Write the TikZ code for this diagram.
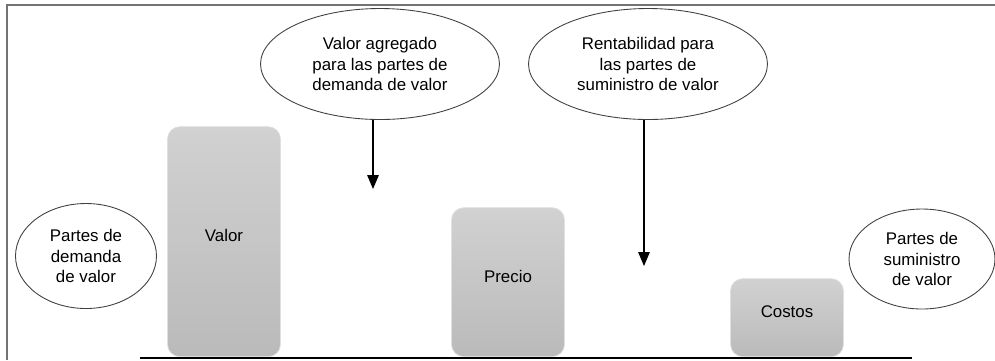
\documentclass[tikz,border=0pt]{standalone}
\usepackage{fontspec}
\setmainfont{Liberation Sans}
\usetikzlibrary{arrows,shapes.geometric,positioning}

\begin{document}
\begin{tikzpicture}[x=0.02cm,y=-0.02cm,-triangle 45,
            font=\fontsize{9.6}{11.7}\selectfont,
            party/.style={ellipse,draw=black!75,line width=0.5pt,inner sep=0pt,align=center},
            bar/.style={rectangle,rounded corners=7pt,draw=black!12,top color=black!18,bottom color=black!27,
              minimum width=2.26cm,anchor=south,text depth=0.24cm}]

        \useasboundingbox (0,0) rectangle (995,360);
        \draw[-,black!55,line width=1.1pt] (7,360) -- (7,5) -- (995,5);

        \node[party,minimum width=4.78cm,minimum height=2.22cm] (agregado) at (380,64)
            {Valor agregado\\para las partes de\\demanda de valor};
        \node[party,minimum width=4.78cm,minimum height=2.22cm] (rentab) at (648,64)
            {Rentabilidad para\\las partes de\\suministro de valor};
        \node[party,minimum width=2.82cm,minimum height=2.1cm] (demanda) at (86,256)
            {Partes de\\demanda\\de valor};
        \node[party,minimum width=2.92cm,minimum height=2cm] (suministro) at (922,259)
            {Partes de\\suministro\\de valor};

        \node[bar,minimum height=4.6cm] (valor) at (224,357) {Valor};
        \node[bar,minimum height=2.98cm] (precio) at (508,357) {Precio};
        \node[bar,minimum height=1.56cm] (costos) at (787,357) {Costos};

        \coordinate (izq) at (140,358);
        \coordinate (der) at (912,358);
        \coordinate (fin1) at (373,189);
        \coordinate (fin2) at (644,266);

        \draw[-,line width=0.9pt] (izq) -- (der);
        \draw[line width=0.8pt] (agregado.south -| fin1) -- (fin1);
        \draw[line width=0.8pt] (rentab.south -| fin2) -- (fin2);

    \end{tikzpicture}
\end{document}
